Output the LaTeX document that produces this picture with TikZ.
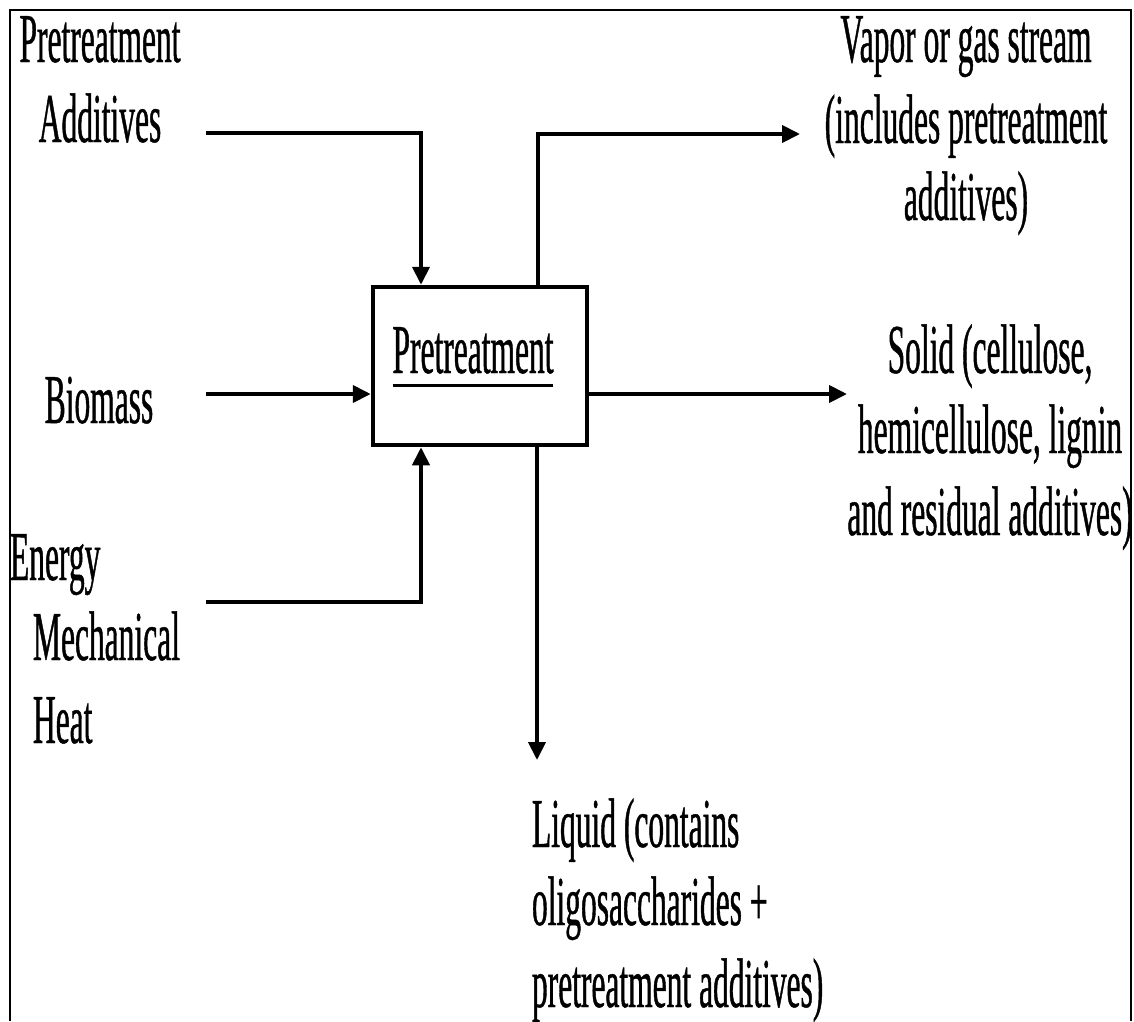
\documentclass[tikz,border=0pt]{standalone}
\usepackage{fontspec}
\newfontfamily\condfont[FakeStretch=0.45,FakeBold=0.6]{Liberation Serif}
\usetikzlibrary{arrows.meta,calc}
\begin{document}
\begin{tikzpicture}[x=1pt,y=-1pt,
  lbl/.style={font=\condfont\fontsize{70}{84}\selectfont, inner sep=0pt, outer sep=0pt},
  conn/.style={line width=4pt, draw=black},
  arr/.style={conn, -{Triangle[length=18pt,width=17pt]}},
  pbox/.style={draw=black, line width=4.5pt, minimum width=214pt, minimum height=158pt, inner sep=0pt, fill=white},
  frame/.style={line width=2.5pt, draw=black}]
\useasboundingbox (0,0) rectangle (1134,1021);
% frame
\coordinate (bl) at (10,1021);
\coordinate (tl) at (10,10);
\coordinate (tr) at (1131,10);
\coordinate (br) at (1131,1021);
\draw[frame] (bl) -- (tl) -- (tr) -- (br);
% central box
\node[pbox] (box) at (480,366) {};
\node[lbl, anchor=base] (boxlbl) at (473,373) {Pretreatment};
\draw[line width=3pt] ([yshift=-12pt]boxlbl.base west) -- ([yshift=-12pt]boxlbl.base east);
% inputs
\node[lbl, anchor=base] (t1a) at (100,62) {Pretreatment};
\node[lbl, anchor=base] (t1b) at (100,142) {Additives};
\node[lbl, anchor=base] (bio) at (99,423) {Biomass};
\node[lbl, anchor=base west] (en1) at (10,580) {Energy};
\node[lbl, anchor=base west] (en2) at (33,660) {Mechanical};
\node[lbl, anchor=base west] (en3) at (33,743) {Heat};
% outputs
\node[lbl, anchor=base] (v1) at (966,62) {Vapor or gas stream};
\node[lbl, anchor=base] (v2) at (966,143) {(includes pretreatment};
\node[lbl, anchor=base] (v3) at (966,220) {additives)};
\node[lbl, anchor=base] (s1) at (990,373) {Solid (cellulose,};
\node[lbl, anchor=base] (s2) at (990,453) {hemicellulose, lignin};
\node[lbl, anchor=base] (s3) at (990,535) {and residual additives)};
\node[lbl, anchor=base west] (l1) at (532,847) {Liquid (contains};
\node[lbl, anchor=base west] (l2) at (532,925) {oligosaccharides +};
\node[lbl, anchor=base west] (l3) at (532,1007) {pretreatment additives)};
% connectors
\coordinate (a0) at (206,133);
\coordinate (b0) at (206,394);
\coordinate (e0) at (206,602);
\coordinate (v0) at (800,134);
\coordinate (s0) at (847,394);
\coordinate (l0) at (537,760);
\draw[arr] (a0) -| ([xshift=-59pt]box.north);
\draw[arr] ([xshift=58pt]box.north) |- (v0);
\draw[arr] (b0) -- (b0 -| box.west);
\draw[arr] (box.east |- s0) -- (s0);
\draw[arr] (e0) -| ([xshift=-59pt]box.south);
\draw[arr] (box.south -| l0) -- (l0);
\end{tikzpicture}
\end{document}
